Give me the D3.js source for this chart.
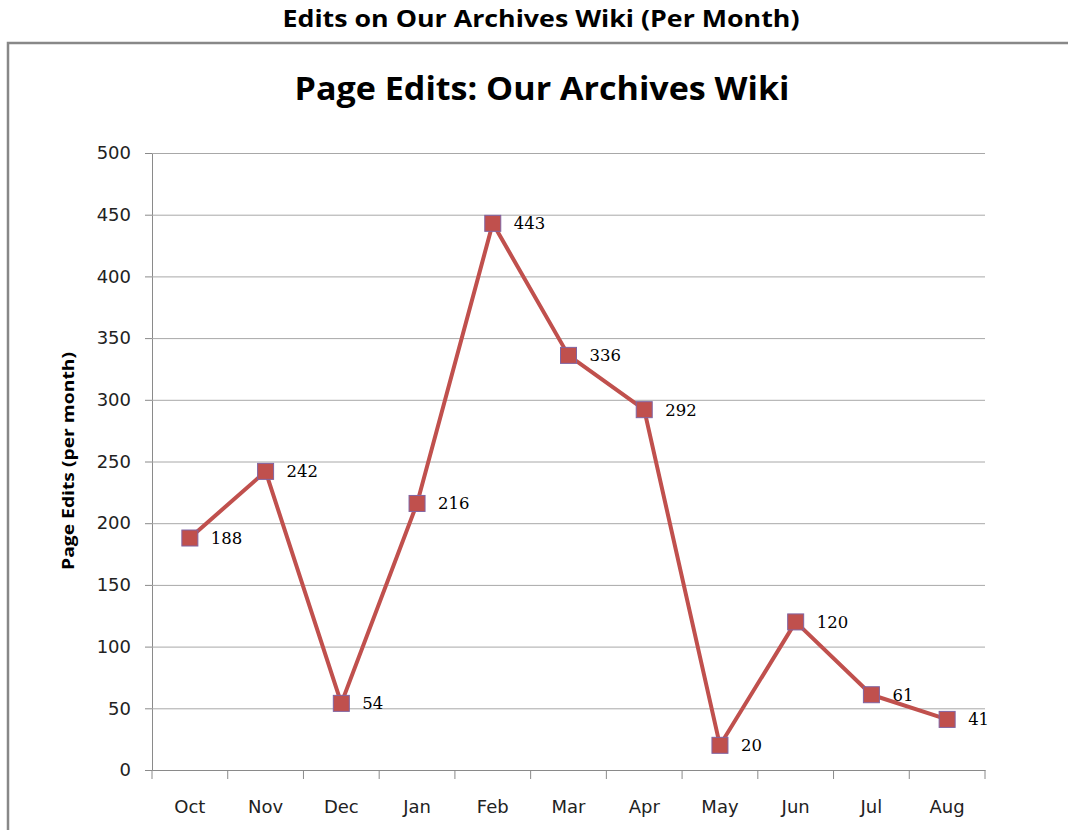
<!DOCTYPE html>
<html><head><meta charset="utf-8">
<script src="https://cdn.jsdelivr.net/npm/d3@7"></script>
<style>
html,body{margin:0;padding:0;background:#fff;}
svg{display:block;}
</style></head>
<body>
<svg id="chart" width="1068" height="830"></svg>
<script>
const months = ["Oct","Nov","Dec","Jan","Feb","Mar","Apr","May","Jun","Jul","Aug"];
const edits = [188,242,54,216,443,336,292,20,120,61,41];
const yTicks = [0,50,100,150,200,250,300,350,400,450,500];
const pageTitle = "Edits on Our Archives Wiki (Per Month)";
const chartTitle = "Page Edits: Our Archives Wiki";
const yTitle = "Page Edits (per month)";

const svg = d3.select("#chart");
const m = {left:152, right:985, top:153, bottom:770};

// outer frame
svg.append("path").attr("d","M8,831 L8,43 L1069,43")
  .attr("fill","none").attr("stroke","#888").attr("stroke-width",2.5);

svg.append("text").attr("x",541).attr("y",27).attr("text-anchor","middle")
  .attr("font-family","Open Sans, sans-serif").attr("font-weight","bold").attr("font-size",23)
  .attr("textLength",517).attr("lengthAdjust","spacingAndGlyphs")
  .text(pageTitle);

svg.append("text").attr("x",542).attr("y",100).attr("text-anchor","middle")
  .attr("font-family","Open Sans, sans-serif").attr("font-weight","bold").attr("font-size",33)
  .attr("textLength",495).attr("lengthAdjust","spacingAndGlyphs")
  .text(chartTitle);

const x = d3.scaleBand().domain(months).range([m.left,m.right]);
const y = d3.scaleLinear().domain([0,500]).range([m.bottom,m.top]);

// gridlines + y ticks
const yAxis = d3.axisLeft(y).tickValues(yTicks).tickSize(7).tickPadding(14);
const gy = svg.append("g").attr("transform",`translate(${m.left},0)`).call(yAxis);
gy.select(".domain").attr("stroke","#8a8a8a");
gy.selectAll(".tick line").attr("stroke","#8a8a8a");
gy.selectAll(".tick text").attr("font-family","DejaVu Sans, sans-serif").attr("font-size",18).attr("fill","#222");
svg.append("g").selectAll("line").data(yTicks.filter(d=>d>0)).join("line")
  .attr("x1",m.left).attr("x2",m.right).attr("y1",d=>y(d)+0.5).attr("y2",d=>y(d)+0.5)
  .attr("stroke","#a8a8a8").attr("stroke-width",1);

// x axis
const gx = svg.append("g").attr("transform",`translate(0,${m.bottom})`)
  .call(d3.axisBottom(x).tickSize(0).tickPadding(30));
gx.select(".domain").attr("stroke","#8a8a8a");
gx.selectAll(".tick text").attr("font-family","DejaVu Sans, sans-serif").attr("font-size",18).attr("fill","#222");
const bounds = months.map(mo=>x(mo)).concat([x.range()[1]]);
svg.append("g").selectAll("line").data(bounds).join("line")
  .attr("x1",d=>d).attr("x2",d=>d).attr("y1",m.bottom).attr("y2",m.bottom+9)
  .attr("stroke","#8a8a8a");

// y title
svg.append("text").attr("transform",`translate(74,461) rotate(-90)`).attr("text-anchor","middle")
  .attr("font-family","Open Sans, sans-serif").attr("font-weight","bold").attr("font-size",16)
  .attr("textLength",218).attr("lengthAdjust","spacingAndGlyphs")
  .text(yTitle);

const cx = mo => x(mo)+x.bandwidth()/2;
const line = d3.line().x((d,i)=>cx(months[i])).y(d=>y(d));
svg.append("path").datum(edits).attr("d",line).attr("fill","none")
  .attr("stroke","#c0504d").attr("stroke-width",4).attr("stroke-linejoin","round");

svg.append("g").selectAll("rect").data(edits).join("rect")
  .attr("x",(d,i)=>cx(months[i])-8).attr("y",d=>y(d)-8).attr("width",16).attr("height",16)
  .attr("fill","#c0504d").attr("stroke","#8064a2").attr("stroke-width",1);

svg.append("g").selectAll("text").data(edits).join("text")
  .attr("x",(d,i)=>cx(months[i])+21).attr("y",d=>y(d)+6)
  .attr("font-family","DejaVu Serif, serif").attr("font-size",16.5).attr("fill","#000")
  .text(d=>d);
</script>
</body></html>
